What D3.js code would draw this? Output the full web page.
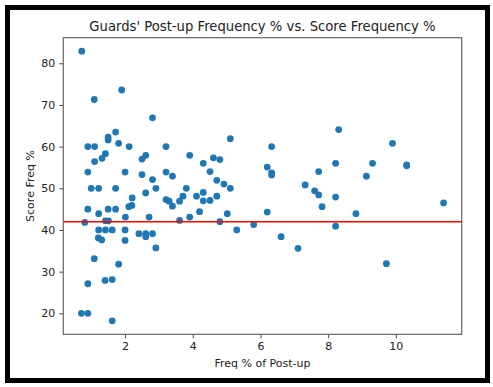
<!DOCTYPE html>
<html>
<head>
<meta charset="utf-8">
<script src="https://cdn.jsdelivr.net/npm/d3@7"></script>
<style>
  body { margin: 0; background: #fff; }
  text { font-family: "DejaVu Sans", sans-serif; fill: #222; }
</style>
</head>
<body>
<script>
// Post-up frequency % (x) and score frequency % (y), one entry per guard
var postUp = [0.72, 1.9, 1.09, 2.81, 8.31, 1.72, 1.5, 1.5, 5.11, 1.81,
  9.9, 0.9, 1.1, 2.12, 3.21, 6.33, 1.42, 1.32, 2.61, 2.5,
  3.91, 4.61, 4.8, 1.1, 4.31, 8.22, 9.31, 6.2, 10.32, 10.32,
  0.9, 2.0, 3.21, 4.51, 7.72, 6.33, 6.33, 2.5, 3.4, 9.13,
  2.81, 4.71, 4.92, 7.32, 1.0, 1.22, 1.72, 2.91, 3.81, 5.11,
  7.6, 7.72, 2.61, 4.31, 3.71, 4.11, 4.71, 8.22, 2.21, 3.21,
  3.3, 3.61, 4.31, 4.51, 11.41, 2.2, 2.11, 3.4, 7.82, 0.9,
  1.5, 1.72, 8.82, 1.22, 5.02, 4.2, 6.2, 2.01, 2.71, 3.91,
  1.42, 1.51, 3.61, 0.81, 4.8, 5.8, 8.22, 1.22, 1.42, 1.62,
  2.0, 5.3, 2.41, 2.61, 2.81, 2.61, 6.61, 1.21, 1.31, 2.0,
  2.91, 7.11, 1.09, 1.81, 9.72, 1.41, 1.62, 0.9, 0.71, 0.9,
  1.62];
var scoreFreq = [82.9, 73.6, 71.3, 66.9, 64.1, 63.5, 62.3, 61.6, 61.9, 60.8,
  60.8, 60, 60, 60, 60, 60, 58.3, 57.2, 57.9, 57.0,
  57.9, 57.3, 56.9, 56.4, 56.0, 56.0, 56.0, 55.1, 55.6, 55.4,
  53.9, 53.9, 53.9, 54.0, 54.0, 53.7, 53.2, 53.3, 52.9, 52.9,
  52.1, 51.9, 51.0, 50.8, 50, 50, 50, 50, 50, 50,
  49.4, 48.4, 48.9, 49.0, 48.1, 48.1, 48.1, 47.9, 47.7, 47.3,
  46.9, 46.9, 47.0, 47.1, 46.5, 45.9, 45.6, 45.7, 45.6, 45.0,
  45.0, 45.0, 43.9, 43.9, 43.9, 44.4, 44.3, 43.1, 43.1, 43.1,
  42.2, 42.2, 42.3, 41.8, 42.0, 41.3, 40.9, 40, 40, 40,
  40, 40, 39.1, 39.1, 39.1, 38.4, 38.4, 38.1, 37.6, 37.5,
  35.7, 35.6, 33.1, 31.8, 31.9, 27.9, 28.1, 27.1, 20, 20,
  18.2];
var refLine = 42;
var xTicks = [2, 4, 6, 8, 10];
var yTicks = [20, 30, 40, 50, 60, 70, 80];

var w = 493;
var h = 387;
var margin = {left: 63.3, right: 31.3, top: 37.7, bottom: 52.7};

var svg = d3.select("body")
            .append("svg")
            .attr("width", w)
            .attr("height", h);

// thick black frame round the figure
svg.append("rect")
   .attr("x", 7.5).attr("y", 7.5)
   .attr("width", 480).attr("height", 373)
   .attr("fill", "none")
   .attr("stroke", "#000")
   .attr("stroke-width", 5);

// matplotlib style 5% padding on the data range
var xExt = d3.extent(postUp), yExt = d3.extent(scoreFreq);
var xPad = (xExt[1] - xExt[0]) * 0.05, yPad = (yExt[1] - yExt[0]) * 0.05;

var x = d3.scaleLinear()
          .domain([xExt[0] - xPad, xExt[1] + xPad])
          .range([margin.left, w - margin.right]);
var y = d3.scaleLinear()
          .domain([yExt[0] - yPad, yExt[1] + yPad])
          .range([h - margin.bottom, margin.top]);

var xAxis = svg.append("g")
   .attr("transform", "translate(0," + (h - margin.bottom) + ")")
   .call(d3.axisBottom(x).tickValues(xTicks).tickSize(4).tickPadding(4).tickSizeOuter(0));
var yAxis = svg.append("g")
   .attr("transform", "translate(" + margin.left + ",0)")
   .call(d3.axisLeft(y).tickValues(yTicks).tickSize(4).tickPadding(4).tickSizeOuter(0));

[xAxis, yAxis].forEach(function(a){
  a.select(".domain").remove();
  a.selectAll("line").attr("stroke", "#444");
  a.selectAll("text").style("font-size", "11px").style("font-family", "DejaVu Sans").attr("fill", "#222");
});

// axes box
svg.append("rect")
   .attr("x", margin.left).attr("y", margin.top)
   .attr("width", w - margin.left - margin.right)
   .attr("height", h - margin.top - margin.bottom)
   .attr("fill", "none")
   .attr("stroke", "#666")
   .attr("stroke-width", 1.2);

// points
svg.selectAll("circle")
   .data(postUp)
   .enter()
   .append("circle")
   .attr("cx", function(d){ return x(d); })
   .attr("cy", function(d, i){ return y(scoreFreq[i]); })
   .attr("r", 3.4)
   .attr("fill", "#1f77b4");

// reference line
svg.append("line")
   .attr("x1", margin.left).attr("x2", w - margin.right)
   .attr("y1", y(refLine)).attr("y2", y(refLine))
   .attr("stroke", "red")
   .attr("stroke-width", 1.5);

svg.append("text")
   .attr("x", (margin.left + w - margin.right) / 2)
   .attr("y", 30.7)
   .attr("text-anchor", "middle")
   .style("font-size", "13.2px")
   .text("Guards' Post-up Frequency % vs. Score Frequency %");

svg.append("text")
   .attr("x", (margin.left + w - margin.right) / 2)
   .attr("y", 367)
   .attr("text-anchor", "middle")
   .style("font-size", "11px")
   .text("Freq % of Post-up");

svg.append("text")
   .attr("transform", "translate(34," + ((margin.top + h - margin.bottom) / 2) + ") rotate(-90)")
   .attr("text-anchor", "middle")
   .style("font-size", "11px")
   .text("Score Freq %");
</script>
</body>
</html>
